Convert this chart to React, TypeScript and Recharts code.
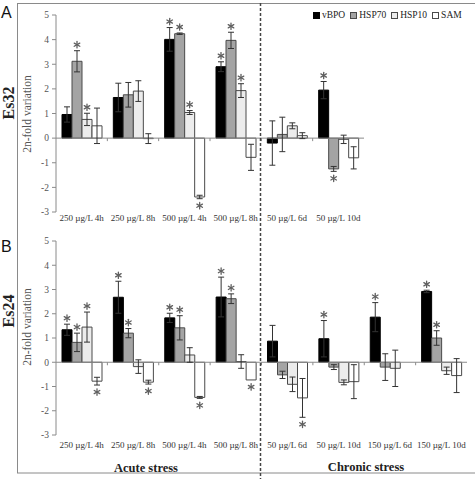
import React from 'react';
import { BarChart, Bar, XAxis, YAxis, ErrorBar, ReferenceLine, LabelList, Legend } from 'recharts';

// x categories
const acuteLabels = ['250 µg/L 4h', '250 µg/L 8h', '500 µg/L 4h', '500 µg/L 8h'];
const es32Labels = [...acuteLabels, '50 µg/L 6d', '50 µg/L 10d'];
const es24Labels = [...acuteLabels, '50 µg/L 6d', '50 µg/L 10d', '150 µg/L 6d', '150 µg/L 10d'];
const yTicks = [-3, -2, -1, 0, 1, 2, 3, 4, 5];

// Es32 (panel A)
const es32vBPO = [0.96, 1.65, 4.01, 2.9, -0.2, 1.95];
const es32vBPOErr = [0.31, 0.58, 0.48, 0.2, 0.9, 0.35];
const es32vBPOSig = [0, 0, 1, 1, 0, 1];
const es32HSP70 = [3.12, 1.76, 4.24, 3.97, 0.15, -1.25];
const es32HSP70Err = [0.43, 0.5, 0.03, 0.33, 0.7, 0.1];
const es32HSP70Sig = [1, 0, 1, 1, 0, 1];
const es32HSP10 = [0.76, 1.91, 1.04, 1.93, 0.5, -0.05];
const es32HSP10Err = [0.25, 0.42, 0.08, 0.28, 0.12, 0.17];
const es32HSP10Sig = [1, 0, 1, 1, 0, 0];
const es32SAM = [0.5, -0.02, -2.39, -0.78, 0.1, -0.8];
const es32SAMErr = [0.72, 0.2, 0.07, 0.53, 0.12, 0.45];
const es32SAMSig = [0, 0, 1, 0, 0, 0];

// Es24 (panel B)
const es24vBPO = [1.34, 2.68, 1.83, 2.69, 0.87, 0.97, 1.86, 2.92];
const es24vBPOErr = [0.23, 0.66, 0.19, 0.82, 0.65, 0.75, 0.6, 0.05];
const es24vBPOSig = [1, 1, 1, 1, 0, 1, 1, 1];
const es24HSP70 = [0.82, 1.2, 1.42, 2.62, -0.52, -0.2, -0.2, 1.0];
const es24HSP70Err = [0.38, 0.19, 0.5, 0.2, 0.15, 0.1, 0.55, 0.3];
const es24HSP70Sig = [1, 1, 1, 1, 0, 0, 0, 1];
const es24HSP10 = [1.45, -0.18, 0.3, 0.03, -0.91, -0.83, -0.25, -0.35];
const es24HSP10Err = [0.62, 0.28, 0.3, 0.28, 0.3, 0.1, 0.75, 0.15];
const es24HSP10Sig = [1, 0, 0, 0, 0, 0, 0, 0];
const es24SAM = [-0.78, -0.82, -1.45, -0.73, -1.47, -0.8, 0.0, -0.55];
const es24SAMErr = [0.16, 0.08, 0.04, 0.0, 0.8, 0.7, 0.6, 0.7];
const es24SAMSig = [1, 1, 1, 1, 1, 0, 0, 0];

const SERIES = [
  { key: 'vBPO', fill: '#000000', stroke: '#000000' },
  { key: 'HSP70', fill: '#a4a4a4', stroke: '#4a4a4a' },
  { key: 'HSP10', fill: '#ececec', stroke: '#4a4a4a' },
  { key: 'SAM', fill: '#ffffff', stroke: '#4a4a4a' },
];

const es32Rows = es32Labels.map((label, i) => ({
  label,
  vBPO: es32vBPO[i], vBPOErr: es32vBPOErr[i], vBPOSig: es32vBPOSig[i],
  HSP70: es32HSP70[i], HSP70Err: es32HSP70Err[i], HSP70Sig: es32HSP70Sig[i],
  HSP10: es32HSP10[i], HSP10Err: es32HSP10Err[i], HSP10Sig: es32HSP10Sig[i],
  SAM: es32SAM[i], SAMErr: es32SAMErr[i], SAMSig: es32SAMSig[i],
}));

const es24Rows = es24Labels.map((label, i) => ({
  label,
  vBPO: es24vBPO[i], vBPOErr: es24vBPOErr[i], vBPOSig: es24vBPOSig[i],
  HSP70: es24HSP70[i], HSP70Err: es24HSP70Err[i], HSP70Sig: es24HSP70Sig[i],
  HSP10: es24HSP10[i], HSP10Err: es24HSP10Err[i], HSP10Sig: es24HSP10Sig[i],
  SAM: es24SAM[i], SAMErr: es24SAMErr[i], SAMSig: es24SAMSig[i],
}));

const SERIF = '"Liberation Serif", "Times New Roman", serif';
const TOP = 15;
const STAR_R = 3.2;

// asterisk drawn just past the end of the error bar
const starContent = (rows: any[], key: string, ppu: number) => (props: any) => {
  const vb = props.viewBox || props;
  const { index } = props;
  const row = rows[index];
  if (!row || !row[key + 'Sig']) return null;
  const x = Number(vb.x), y = Number(vb.y), w = Number(vb.width), h = Number(vb.height);
  const top = Math.min(y, y + h);
  const bottom = Math.max(y, y + h);
  const err = row[key + 'Err'] * ppu;
  const cx = x + w / 2;
  const cy = row[key] >= 0 ? top - err - 6 : bottom + err + 7;
  const arms = [90, 30, -30].map((a) => {
    const r = (a * Math.PI) / 180;
    return { dx: STAR_R * Math.cos(r), dy: STAR_R * Math.sin(r) };
  });
  return (
    <g stroke="#606060" strokeWidth={1.3} strokeLinecap="round">
      {arms.map((d, i) => (
        <line key={i} x1={cx - d.dx} y1={cy - d.dy} x2={cx + d.dx} y2={cy + d.dy} />
      ))}
    </g>
  );
};

// zero line with small marks between the groups
const zeroLine = (count: number) => (props: any) => {
  const { x1, x2, y1 } = props;
  const step = (x2 - x1) / count;
  const marks = Array.from({ length: count - 1 }, (_, i) => x1 + step * (i + 1));
  return (
    <g stroke="#8a8a8a" strokeWidth={1}>
      <line x1={x1} y1={y1} x2={x2} y2={y1} />
      {marks.map((mx, i) => (
        <line key={i} x1={mx} y1={y1} x2={mx} y2={y1 + 3} />
      ))}
    </g>
  );
};

const renderLegend = () => (
  <div style={{ display: 'flex', alignItems: 'center', fontSize: 9.5, fontFamily: SERIF, color: '#222', whiteSpace: 'nowrap' }}>
    {SERIES.map((s) => (
      <span key={s.key} style={{ display: 'inline-flex', alignItems: 'center', marginRight: 5 }}>
        <span style={{ display: 'inline-block', width: 7, height: 7, boxSizing: 'border-box', background: s.fill, border: `1px solid ${s.stroke}`, marginRight: 2 }} />
        {s.key}
      </span>
    ))}
  </div>
);

interface PanelProps {
  rows: any[];
  height: number;
  plotRight: number;
  xAxisHeight: number;
  tickGap: number;
  legend?: boolean;
}

const WIDTH = 475;

const Panel: React.FC<PanelProps> = ({ rows, height, plotRight, xAxisHeight, tickGap, legend }) => {
  const ppu = (height - TOP - xAxisHeight) / 8;
  return (
    <BarChart width={WIDTH} height={height} data={rows} barGap={0} barSize={10}
      margin={{ top: TOP, right: WIDTH - plotRight, left: 0, bottom: 0 }}>
      <XAxis dataKey="label" interval={0} tickLine={false} axisLine={false} tickSize={tickGap}
        height={xAxisHeight} tick={{ fontSize: 9, fill: '#333', fontFamily: SERIF }} />
      <YAxis domain={[-3, 5]} ticks={yTicks} width={56} stroke="#8a8a8a" tickSize={4} tickMargin={3}
        tick={{ fontSize: 9.5, fill: '#555', fontFamily: SERIF }} allowDataOverflow />
      <ReferenceLine y={0} stroke="#8a8a8a" shape={zeroLine(rows.length)} />
      {SERIES.map((s) => (
        <Bar key={s.key} dataKey={s.key} name={s.key} fill={s.fill} stroke={s.stroke} strokeWidth={1}
          isAnimationActive={false}>
          <ErrorBar dataKey={s.key + 'Err'} width={3} stroke="#333" strokeWidth={1} isAnimationActive={false} />
          <LabelList dataKey={s.key + 'Sig'} content={starContent(rows, s.key, ppu)} />
        </Bar>
      ))}
      {legend && (
        <Legend layout="horizontal" verticalAlign="middle" align="center" content={renderLegend}
          wrapperStyle={{ top: 10, left: 313, width: 'auto' }} />
      )}
    </BarChart>
  );
};

export default function App() {
  return (
    <div style={{ position: 'absolute', left: 0, top: 0, width: 475, height: 479, background: '#fff', fontFamily: SERIF, overflow: 'hidden' }}>
      <div style={{ position: 'absolute', left: 0, top: 0 }}>
        <Panel rows={es32Rows} height={236} plotRight={364} xAxisHeight={24} tickGap={1} legend />
      </div>
      <div style={{ position: 'absolute', left: 0, top: 226 }}>
        <Panel rows={es24Rows} height={240} plotRight={467} xAxisHeight={31} tickGap={5} />
      </div>
      <svg width={475} height={479} style={{ position: 'absolute', left: 0, top: 0, pointerEvents: 'none' }}>
        <rect x={17.5} y={3.5} width={470} height={469.5} fill="none" stroke="#8a8a8a" strokeWidth={1} />
        <line x1={260.5} y1={3} x2={260.5} y2={479} stroke="#444" strokeWidth={1.5} strokeDasharray="3 2" />
        <text x={1} y={18} fontSize={16} fontFamily='"Liberation Sans", Arial, sans-serif' fill="#111">A</text>
        <text x={1} y={252} fontSize={16} fontFamily='"Liberation Sans", Arial, sans-serif' fill="#111">B</text>
        <text transform="translate(14,103) rotate(-90)" textAnchor="middle" fontSize={16} fontWeight="bold" fontFamily={SERIF} fill="#222">Es32</text>
        <text transform="translate(14,311) rotate(-90)" textAnchor="middle" fontSize={16} fontWeight="bold" fontFamily={SERIF} fill="#222">Es24</text>
        <text transform="translate(31,114) rotate(-90)" textAnchor="middle" fontSize={11.5} fontFamily={SERIF} fill="#555">2n-fold variation</text>
        <text transform="translate(31,327) rotate(-90)" textAnchor="middle" fontSize={11.5} fontFamily={SERIF} fill="#555">2n-fold variation</text>
        <text x={146} y={472} textAnchor="middle" fontSize={12.5} fontWeight="bold" fontFamily={SERIF} fill="#222">Acute stress</text>
        <text x={366} y={471} textAnchor="middle" fontSize={12.5} fontWeight="bold" fontFamily={SERIF} fill="#222">Chronic stress</text>
      </svg>
    </div>
  );
}
